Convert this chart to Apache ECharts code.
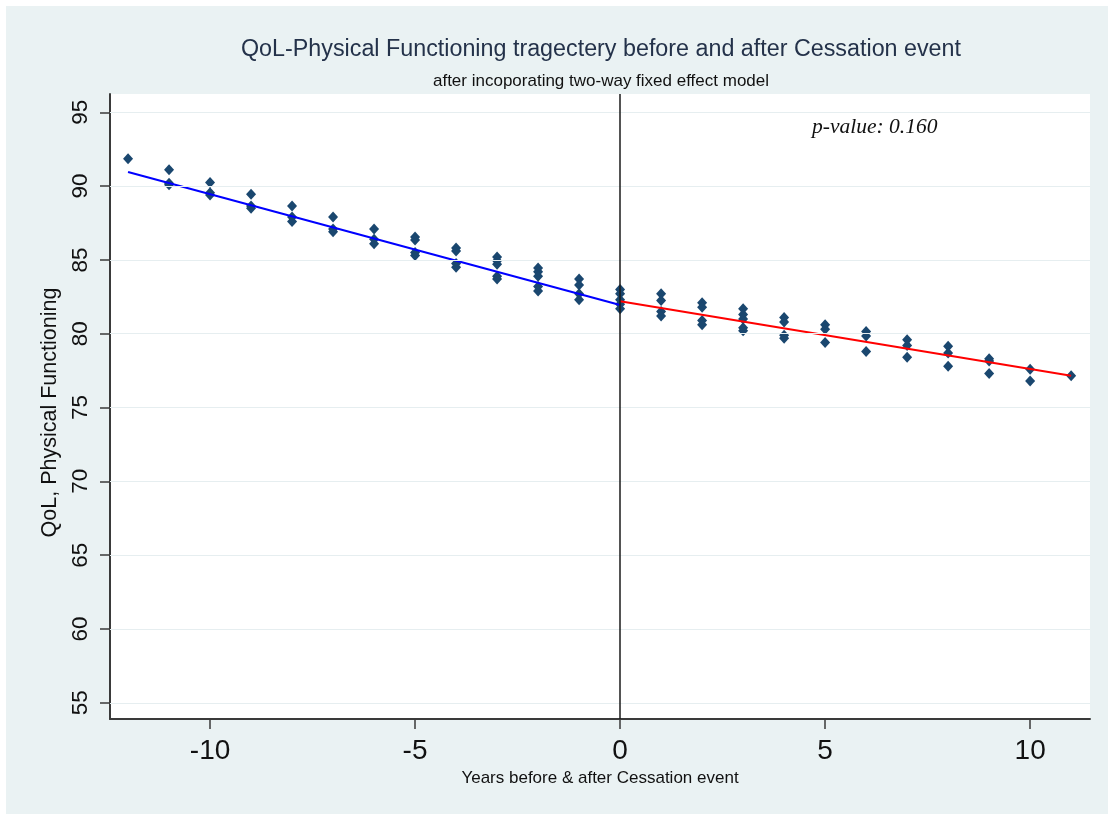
<!DOCTYPE html>
<html>
<head>
<meta charset="utf-8">
<script src="https://cdn.jsdelivr.net/npm/echarts@6/dist/echarts.min.js"></script>
<style>
  html, body { margin: 0; padding: 0; background: #ffffff; }
  #chart { position: absolute; left: 6px; top: 6px; width: 1102px; height: 808px; background: #eaf2f3; }
</style>
</head>
<body>
<div id="chart"></div>
<script>
// Years relative to the cessation event
const years = [-12, -11, -10, -9, -8, -7, -6, -5, -4, -3, -2, -1, 0, 1, 2, 3, 4, 5, 6, 7, 8, 9, 10, 11];

// Observed QoL physical-functioning scores for each year
const scores = [
  [91.85],
  [91.1, 90.2, 90.1],
  [90.25, 89.55, 89.4],
  [89.45, 88.65, 88.5],
  [88.65, 87.9, 87.6],
  [87.9, 87.1, 86.9],
  [87.1, 86.4, 86.1],
  [86.55, 86.35, 85.5, 85.3],
  [85.8, 85.6, 84.75, 84.5],
  [85.2, 84.95, 84.7, 83.9, 83.7],
  [84.45, 84.2, 83.9, 83.2, 82.9],
  [83.7, 83.3, 82.7, 82.3],
  [83.0, 82.7, 82.3, 82.0, 81.7],
  [82.7, 82.25, 81.5, 81.2],
  [82.1, 81.8, 80.9, 80.6],
  [81.7, 81.3, 81.0, 80.4, 80.2],
  [81.1, 80.8, 79.9, 79.7],
  [80.6, 80.3, 79.4],
  [80.15, 79.85, 78.8],
  [79.6, 79.2, 78.4],
  [79.15, 78.7, 77.8],
  [78.3, 78.15, 77.3],
  [77.6, 76.8],
  [77.15]
];

// Fitted trend before and after the event
const beforeFitX = [-12, 0];
const beforeFitY = [90.95, 81.95];
const afterFitX = [0, 11];
const afterFitY = [82.2, 77.15];

// Axis ticks
const xTicks = [-10, -5, 0, 5, 10];
const yTicks = [55, 60, 65, 70, 75, 80, 85, 90, 95];

const eventYear = 0;
const pValueText = 'p-value: 0.160';

const scatterData = [];
years.forEach((yr, i) => scores[i].forEach(v => scatterData.push([yr, v])));
const beforeLine = beforeFitX.map((x, i) => [x, beforeFitY[i]]);
const afterLine = afterFitX.map((x, i) => [x, afterFitY[i]]);

const chart = echarts.init(document.getElementById('chart'), null, { renderer: 'canvas' });

const axisColor = '#3a3a3a';
const font = '"Liberation Sans", Arial, sans-serif';

chart.setOption({
  backgroundColor: 'transparent',
  animation: false,
  grid: {
    left: 104, right: 18, top: 88, bottom: 95,
    show: true, backgroundColor: '#ffffff', borderWidth: 0
  },
  graphic: [
    {
      type: 'text', x: 595, y: 44, z: 10,
      style: {
        text: 'QoL-Physical Functioning tragectery before and after Cessation event',
        font: '23.3px ' + font, fill: '#24324a', align: 'center', verticalAlign: 'middle'
      }
    },
    {
      type: 'text', x: 595, y: 75, z: 10,
      style: {
        text: 'after incoporating two-way fixed effect model',
        font: '17px ' + font, fill: '#111111', align: 'center', verticalAlign: 'middle'
      }
    },
    {
      type: 'text', x: 806, y: 121, z: 10,
      style: {
        text: pValueText,
        font: 'italic 21.5px "Liberation Serif", "Times New Roman", serif', fill: '#111111',
        align: 'left', verticalAlign: 'middle'
      }
    }
  ],
  xAxis: {
    type: 'value',
    min: -12.44, max: 11.46,
    name: 'Years before & after Cessation event',
    nameLocation: 'middle', nameGap: 43,
    nameTextStyle: { fontFamily: font, fontSize: 17, color: '#111111' },
    axisLine: { show: true, onZero: false, lineStyle: { color: axisColor, width: 2 } },
    axisTick: { show: true, length: 10, inside: false, customValues: xTicks, lineStyle: { color: axisColor, width: 1.5 } },
    axisLabel: { customValues: xTicks, margin: 18, fontFamily: font, fontSize: 28, color: '#111111' },
    splitLine: { show: false }
  },
  yAxis: {
    type: 'value',
    min: 53.9, max: 96.24,
    name: 'QoL, Physical Functioning',
    nameLocation: 'middle', nameGap: 48, nameRotate: 90,
    nameTextStyle: { fontFamily: font, fontSize: 21.5, color: '#111111', padding: [0, 12, 0, 0] },
    axisLine: { show: true, onZero: false, lineStyle: { color: axisColor, width: 2 } },
    axisTick: { show: true, length: 10, inside: false, customValues: yTicks, lineStyle: { color: axisColor, width: 1.5 } },
    axisLabel: { customValues: yTicks, rotate: 90, margin: 18, fontFamily: font, fontSize: 22.5, color: '#111111' },
    splitLine: { show: false }
  },
  series: [
    {
      // horizontal gridlines
      type: 'line', data: [], z: 1, silent: true,
      markLine: {
        silent: true, symbol: 'none', animation: false,
        label: { show: false },
        lineStyle: { color: '#e6eef0', width: 1.2, type: 'solid' },
        data: yTicks.map(v => ({ yAxis: v }))
      }
    },
    {
      // event marker
      type: 'line', data: [], z: 2, silent: true,
      markLine: {
        silent: true, symbol: 'none', animation: false,
        label: { show: false },
        lineStyle: { color: '#1a1a1a', width: 1.5, type: 'solid' },
        data: [{ xAxis: eventYear }]
      }
    },
    {
      type: 'scatter', data: scatterData, z: 3,
      symbol: 'diamond', symbolSize: [10, 11],
      itemStyle: { color: '#1a476f', opacity: 1 }
    },
    {
      type: 'line', data: beforeLine, z: 4,
      showSymbol: false, symbol: 'none',
      lineStyle: { color: '#0000ff', width: 2 }
    },
    {
      type: 'line', data: afterLine, z: 4,
      showSymbol: false, symbol: 'none',
      lineStyle: { color: '#ff0000', width: 2 }
    }
  ]
});
</script>
</body>
</html>
